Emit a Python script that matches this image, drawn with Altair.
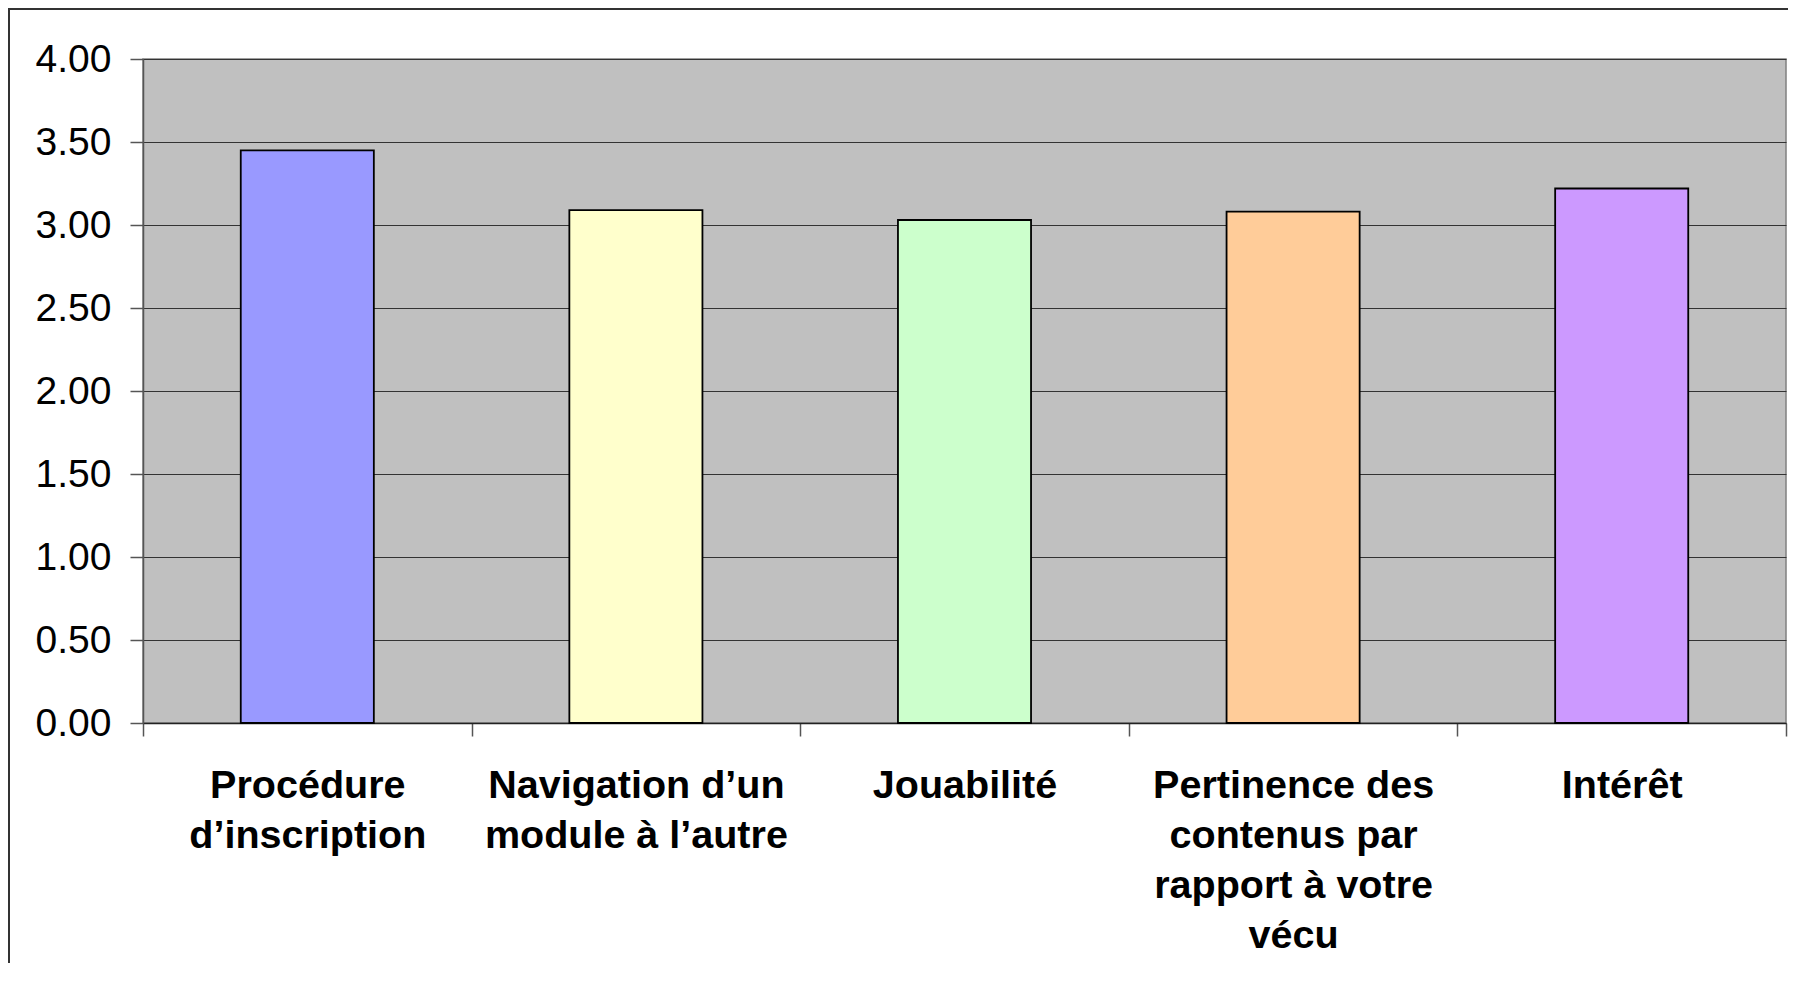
import altair as alt
import pandas as pd

categories = [
    "Procédure\nd’inscription",
    "Navigation d’un\nmodule à l’autre",
    "Jouabilité",
    "Pertinence des\ncontenus par\nrapport à votre\nvécu",
    "Intérêt",
]
values = [3.45, 3.09, 3.03, 3.08, 3.22]
colors = ["#9999FF", "#FFFFCC", "#CCFFCC", "#FFCC99", "#CC99FF"]
y_ticks = [0, 0.5, 1, 1.5, 2, 2.5, 3, 3.5, 4]

df = pd.DataFrame({"cat": categories, "val": values})

W, H = 1643, 664
FONT = "Liberation Sans"

bars = alt.Chart(df).mark_bar(
    stroke="#000000", strokeWidth=1.8, width=alt.RelativeBandSize(0.405)
).encode(
    x=alt.X(
        "cat:N",
        sort=None,
        title=None,
        scale=alt.Scale(paddingInner=0, paddingOuter=0),
        axis=alt.Axis(
            labelExpr="split(datum.label, '\\n')",
            labelAngle=0,
            labelFont=FONT,
            labelFontSize=39.5,
            labelFontWeight="bold",
            labelColor="#000000",
            labelLineHeight=50,
            labelLimit=600,
            labelPadding=30,
            labelBaseline="top",
            tickBand="extent",
            tickSize=13,
            tickColor="#555555",
            tickWidth=1.5,
            domainColor="#222222",
            domainWidth=1.5,
            grid=False,
        ),
    ),
    y=alt.Y(
        "val:Q",
        title=None,
        scale=alt.Scale(domain=[0, 4], nice=False),
        axis=alt.Axis(
            values=y_ticks,
            format=".2f",
            labelFont=FONT,
            labelFontSize=39,
            labelColor="#000000",
            labelPadding=19,
            tickSize=13,
            tickColor="#555555",
            tickWidth=1.5,
            domainColor="#555555",
            domainWidth=1.5,
            gridColor="#333333",
            gridWidth=1.2,
        ),
    ),
    color=alt.Color("cat:N", sort=None, scale=alt.Scale(domain=categories, range=colors), legend=None),
)

frame = alt.Chart(alt.Data(values=[{}])).mark_rect(
    fill=None, stroke="#333333", strokeWidth=2
).encode(
    x=alt.value(-134),
    x2=alt.value(W + 200),
    y=alt.value(-50),
    y2=alt.value(H + 400),
)

chart = alt.layer(bars, frame).properties(
    width=W,
    height=H,
    autosize=alt.AutoSizeParams(type="none"),
    padding={"left": 135, "top": 51, "right": 2, "bottom": 240},
    background="#FFFFFF",
).configure_view(fill="#C0C0C0", stroke="#808080", strokeWidth=1.5)

chart.save("out.html", embed_options={"renderer": "svg", "actions": False})
